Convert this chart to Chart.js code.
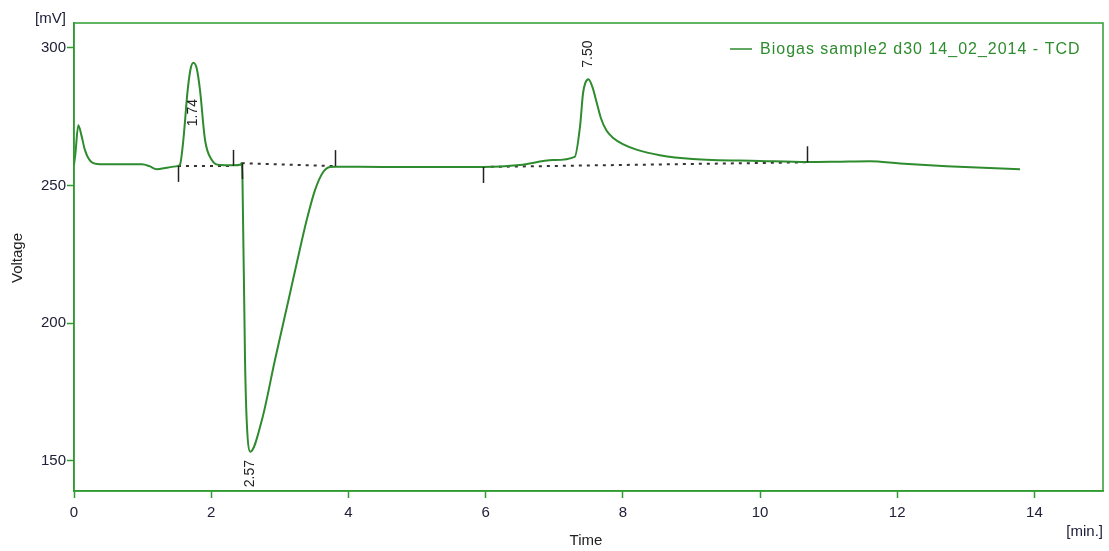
<!DOCTYPE html>
<html lang="en">
<head>
  <meta charset="UTF-8">
  <title>Biogas sample2 d30 - TCD</title>
  <script src="https://cdn.jsdelivr.net/npm/chart.js"></script>
  <style>
    body { margin: 0; background: #fff; }
    #chromChart { display: block; }
  </style>
</head>
<body>
  <canvas id="chromChart" width="1109" height="551"></canvas>

  <script>
    // TCD trace, time in minutes and signal in mV
    const times = [0, 0.02, 0.063, 0.11, 0.16, 0.25, 0.38, 0.99, 1.1, 1.205, 1.35, 1.52,
      1.545, 1.594, 1.657, 1.70, 1.74, 1.79, 1.837, 1.91, 2.007, 2.128, 2.33, 2.43,
      2.445, 2.456, 2.493, 2.517, 2.57, 2.74, 2.93, 3.127, 3.258, 3.392,
      3.513, 3.63, 3.732, 3.805, 4.5, 5.2, 5.96, 6.5, 6.98, 7.30, 7.376, 7.42, 7.45,
      7.50, 7.56, 7.62, 7.68, 7.76, 7.86, 8.0, 8.2, 8.54, 9.02, 10.0, 10.69, 11.1,
      11.6, 12.04, 12.72, 13.79];
    const voltages = [257.5, 261.5, 271.9, 268, 262.8, 258.6, 257.7, 257.7, 257.0, 255.9, 256.4, 257.1,
      257.5, 266.5, 284.6, 292.4, 294.6, 292.4, 284.6, 266.5, 259.3, 257.4, 257.3, 257.6,
      258.1, 252, 186.7, 164.9, 153.3, 164.9, 186.7, 208.4, 223.0, 237.4,
      248.3, 254.8, 256.7, 256.8, 256.7, 256.7, 256.7, 257.4, 259.2, 260.4, 271.3, 283.4, 287,
      288.6, 285.5, 280, 274.5, 270, 267.2, 265, 263, 261.0, 259.6, 258.9, 258.5, 258.6,
      258.8, 258.0, 257.0, 255.9];

    // retention times of the labelled peaks
    const peakTimes = [1.74, 2.57, 7.50];

    // integration start/end markers (pairs make the baselines)
    const markerTimes = [1.516, 2.325, 2.445, 3.805, 5.96, 10.69];
    const markerLevels = [257.1, 257.1, 258.1, 257.0, 256.7, 258.4];

    const xTicks = [0, 2, 4, 6, 8, 10, 12, 14];
    const yTicks = [150, 200, 250, 300];

    const seriesName = 'Biogas sample2 d30 14_02_2014 - TCD';

    const green = '#2f9b2f';
    const traceColor = '#2e8b2e';
    const textColor = '#20203a';
    const tickFont = '"Liberation Sans", Arial, sans-serif';

    const trace = times.map((t, i) => ({ x: t, y: voltages[i] }));

    // dotted baselines between each start/end marker pair
    const baselines = [];
    for (let i = 0; i < markerTimes.length; i += 2) {
      baselines.push({
        data: [
          { x: markerTimes[i], y: markerLevels[i] },
          { x: markerTimes[i + 1], y: markerLevels[i + 1] }
        ],
        borderColor: '#333',
        borderWidth: 2,
        borderDash: [3, 5],
        pointRadius: 0,
        fill: false
      });
    }

    // frame, markers, peak labels, axis captions and legend
    const chromExtras = {
      id: 'chromExtras',
      afterDatasetsDraw(chart) {
        const { ctx, chartArea: a, scales: { x, y } } = chart;
        ctx.save();

        ctx.strokeStyle = green;
        ctx.lineWidth = 1.5;
        ctx.strokeRect(a.left, a.top, a.right - a.left, a.bottom - a.top);

        ctx.strokeStyle = '#222';
        ctx.lineWidth = 1.5;
        markerTimes.forEach((t, i) => {
          const px = Math.round(x.getPixelForValue(t)) + 0.5;
          const py = y.getPixelForValue(markerLevels[i]);
          const dir = i % 2 === 0 ? 1 : -1;
          ctx.beginPath();
          ctx.moveTo(px, py);
          ctx.lineTo(px, py + dir * 16);
          ctx.stroke();
        });

        // peak labels, rotated, offset from the apex
        const offsets = [50, 22, -25];
        ctx.fillStyle = '#222';
        ctx.font = '14px "Liberation Sans", Arial, sans-serif';
        ctx.textAlign = 'center';
        ctx.textBaseline = 'middle';
        peakTimes.forEach((t, i) => {
          const idx = times.indexOf(t);
          const px = x.getPixelForValue(t);
          const py = y.getPixelForValue(voltages[idx]) + offsets[i];
          ctx.save();
          ctx.translate(px, py);
          ctx.rotate(-Math.PI / 2);
          ctx.fillText(t.toFixed(2), 0, 0);
          ctx.restore();
        });

        // axis captions
        ctx.fillStyle = textColor;
        ctx.font = '15px ' + tickFont;
        ctx.textAlign = 'left';
        ctx.fillText('[mV]', 35, 19);
        ctx.textAlign = 'right';
        ctx.fillText('[min.]', a.right, 532);

        ctx.fillStyle = '#222';
        ctx.font = '15px "Liberation Sans", Arial, sans-serif';
        ctx.textAlign = 'center';
        ctx.fillText('Time', 586, 541);
        ctx.save();
        ctx.translate(18, 258);
        ctx.rotate(-Math.PI / 2);
        ctx.fillText('Voltage', 0, 0);
        ctx.restore();

        // legend
        ctx.strokeStyle = traceColor;
        ctx.lineWidth = 1.5;
        ctx.beginPath();
        ctx.moveTo(730, 49);
        ctx.lineTo(752, 49);
        ctx.stroke();
        ctx.fillStyle = traceColor;
        ctx.font = '16px "Liberation Sans", Arial, sans-serif';
        ctx.letterSpacing = '1px';
        ctx.textAlign = 'left';
        ctx.fillText(seriesName, 760, 50);

        ctx.restore();
      }
    };

    const ctx = document.getElementById('chromChart').getContext('2d');
    new Chart(ctx, {
      type: 'line',
      data: {
        datasets: [
          {
            label: seriesName,
            data: trace,
            borderColor: traceColor,
            borderWidth: 2,
            pointRadius: 0,
            cubicInterpolationMode: 'monotone',
            fill: false
          },
          ...baselines
        ]
      },
      options: {
        responsive: false,
        animation: false,
        devicePixelRatio: 1,
        layout: { padding: { top: 23, right: 6, left: 0, bottom: 0 } },
        plugins: {
          legend: { display: false },
          tooltip: { enabled: false }
        },
        scales: {
          x: {
            type: 'linear',
            min: 0,
            max: 15,
            afterBuildTicks: scale => { scale.ticks = xTicks.map(v => ({ value: v })); },
            afterFit: scale => { scale.height = 60; },
            grid: { drawOnChartArea: false, tickColor: green, tickLength: 7, tickWidth: 1.5 },
            border: { color: green, width: 1.5 },
            ticks: {
              color: textColor,
              padding: 6,
              maxRotation: 0,
              font: { family: tickFont, size: 15 }
            }
          },
          y: {
            type: 'linear',
            min: 139,
            max: 309,
            afterBuildTicks: scale => { scale.ticks = yTicks.map(v => ({ value: v })); },
            afterFit: scale => { scale.width = 74; },
            grid: { drawOnChartArea: false, tickColor: green, tickLength: 7, tickWidth: 1.5 },
            border: { color: green, width: 1.5 },
            ticks: {
              color: textColor,
              padding: 1,
              font: { family: tickFont, size: 15 }
            }
          }
        }
      },
      plugins: [chromExtras]
    });
  </script>
</body>
</html>
